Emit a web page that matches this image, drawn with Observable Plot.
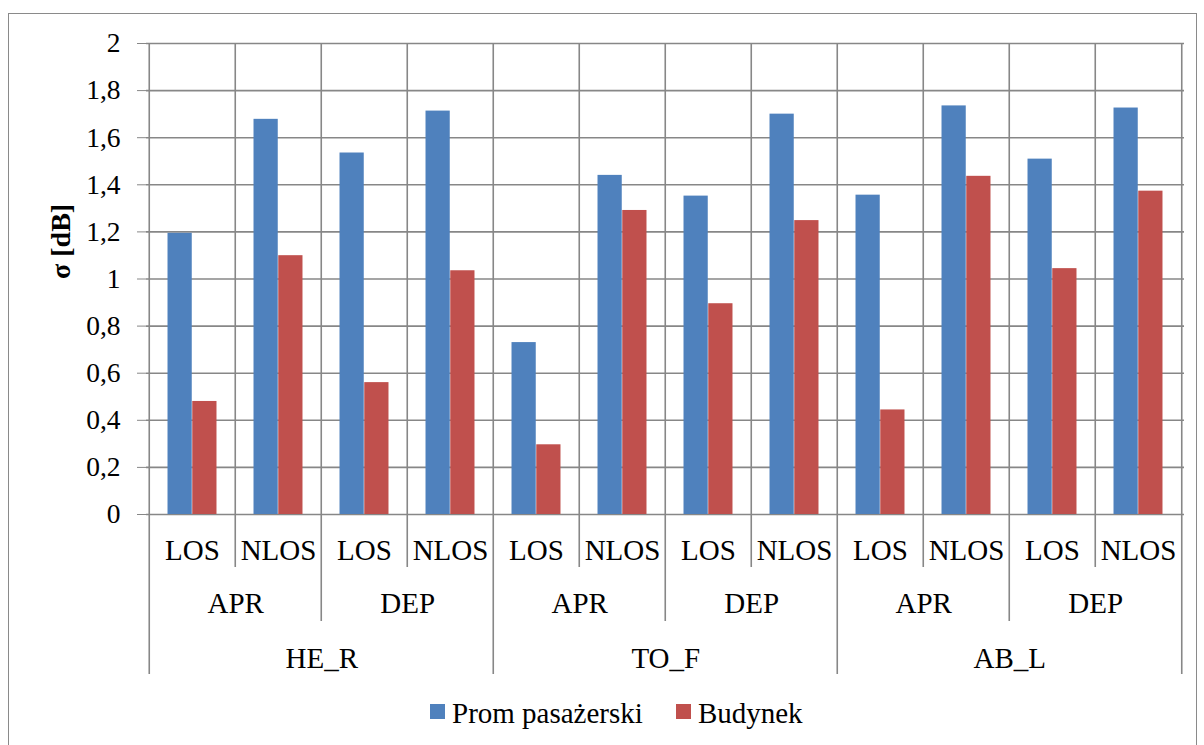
<!DOCTYPE html>
<html>
<head>
<meta charset="utf-8">
<script src="https://cdn.jsdelivr.net/npm/d3@7"></script>
<script src="https://cdn.jsdelivr.net/npm/@observablehq/plot@0.6"></script>
<style>
  html, body { margin: 0; padding: 0; background: #fff; }
  #wrap { position: relative; width: 1204px; height: 745px; overflow: hidden; font-family: "Liberation Serif", "DejaVu Serif", serif; }
  #border { position: absolute; left: 8px; top: 13px; width: 1189px; height: 800px; border: 1.5px solid #8a8a8a; box-sizing: border-box; pointer-events: none; }
  #chart { position: absolute; left: 0; top: 0; }
  #legend { position: absolute; left: 430px; top: 697px; height: 32px; display: flex; align-items: center; font-size: 29px; line-height: 32px; color: #000; }
  #legend .item { display: flex; align-items: center; margin-right: 33px; }
  #legend .sw { width: 15px; height: 15px; margin-right: 7px; position: relative; top: -2px; }
  g[aria-label="y-axis"] .tick line, g[aria-label="y-axis tick"] { stroke: #878787; }
  g[aria-label="y-axis"] .tick line { stroke-width: 1.5; }
</style>
</head>
<body>
<div id="wrap">
  <div id="chart"></div>
  <div id="legend"></div>
  <div id="border"></div>
</div>
<script>
// ---- data ----
const stations = ["HE_R", "TO_F", "AB_L"];
const phases = ["APR", "DEP"];
const conditions = ["LOS", "NLOS"];
const seriesNames = ["Prom pasażerski", "Budynek"];
const seriesColors = ["#4F81BD", "#C0504D"];
const promValues = [1.194, 1.678, 1.535, 1.713, 0.730, 1.440, 1.352, 1.700, 1.356, 1.735, 1.509, 1.726];
const budynekValues = [0.480, 1.099, 0.560, 1.035, 0.296, 1.291, 0.895, 1.248, 0.444, 1.436, 1.044, 1.373];
const yTicks = [0, 0.2, 0.4, 0.6, 0.8, 1, 1.2, 1.4, 1.6, 1.8, 2];
const yLabel = "σ [dB]";

// ---- build table ----
const cats = [];
stations.forEach(s => phases.forEach(p => conditions.forEach(c => {
  cats.push({ key: `${s}|${p}|${c}`, station: s, phase: p, cond: c, index: cats.length });
})));
const keys = cats.map(d => d.key);
const rows = cats.flatMap((c, i) => [
  { key: c.key, series: seriesNames[0], value: promValues[i] },
  { key: c.key, series: seriesNames[1], value: budynekValues[i] }
]);

// ---- layout ----
const W = 1204, H = 690;
const mL = 146, mR = 20, mT = 43, mB = 176;
const bw = (W - mL - mR) / keys.length;
const barW = bw * 0.286;
const gridColor = "#878787";
const gridW = 1.6;
const ext = { 1: 53, 2: 107, 3: 160 };
const bounds = d3.range(0, keys.length).map(i => ({ i, level: i % 4 === 0 ? 3 : i % 2 === 0 ? 2 : 1 }));

const sepMarks = [1, 2, 3].map(L => Plot.ruleX(bounds.filter(b => b.level === L), {
  x: b => keys[b.i], dx: -bw / 2, stroke: gridColor, strokeWidth: gridW, insetBottom: -ext[L]
}));

const chart = Plot.plot({
  width: W, height: H,
  marginLeft: mL, marginRight: mR, marginTop: mT, marginBottom: mB,
  style: { fontFamily: "'Liberation Serif', 'DejaVu Serif', serif", fontSize: "27.5px", color: "#000", background: "transparent", overflow: "visible" },
  x: { type: "band", domain: keys, padding: 0, axis: null },
  y: { domain: [0, 2], ticks: yTicks, tickFormat: d => String(d).replace(".", ","), tickSize: 9, tickPadding: 17, label: null },
  marks: [
    Plot.ruleY(yTicks, { stroke: gridColor, strokeWidth: gridW }),
    ...sepMarks,
    Plot.ruleX([keys[keys.length - 1]], { dx: bw / 2, stroke: gridColor, strokeWidth: gridW, insetBottom: -ext[3] }),
    Plot.barY(rows.filter(r => r.series === seriesNames[0]), {
      x: "key", y: "value", fill: seriesColors[0], insetLeft: bw / 2 - barW, insetRight: bw / 2
    }),
    Plot.barY(rows.filter(r => r.series === seriesNames[1]), {
      x: "key", y: "value", fill: seriesColors[1], insetLeft: bw / 2, insetRight: bw / 2 - barW
    }),
    Plot.text(cats, { x: "key", text: "cond", frameAnchor: "bottom", lineAnchor: "middle", dy: 36, fontSize: 29, fill: "#000" }),
    Plot.text(cats.filter(c => c.cond === conditions[0]), { x: "key", text: "phase", frameAnchor: "bottom", lineAnchor: "middle", dx: bw / 2, dy: 89, fontSize: 29, fill: "#000" }),
    Plot.text(cats.filter(c => c.index % 4 === 1), { x: "key", text: "station", frameAnchor: "bottom", lineAnchor: "middle", dx: bw / 2, dy: 144, fontSize: 29, fill: "#000" }),
    Plot.text([yLabel], { frameAnchor: "left", rotate: -90, dx: -85, fontSize: 28, fontWeight: "bold", fill: "#000" })
  ]
});
document.getElementById("chart").appendChild(chart);

// ---- legend ----
const legend = document.getElementById("legend");
seriesNames.forEach((name, i) => {
  const item = document.createElement("div");
  item.className = "item";
  const sw = document.createElement("span");
  sw.className = "sw";
  sw.style.background = seriesColors[i];
  const label = document.createElement("span");
  label.textContent = name;
  item.appendChild(sw);
  item.appendChild(label);
  legend.appendChild(item);
});
</script>
</body>
</html>
